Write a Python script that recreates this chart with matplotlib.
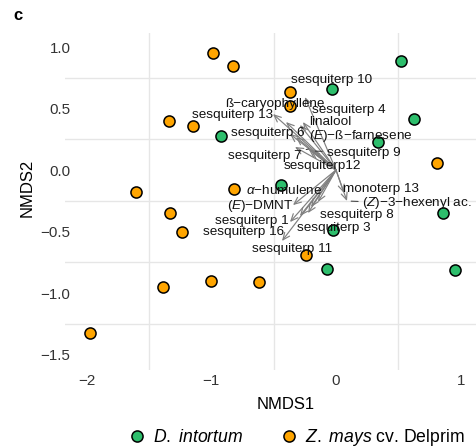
import matplotlib
matplotlib.use("Agg")
import matplotlib.pyplot as plt
from matplotlib.lines import Line2D

plt.rcParams['font.family'] = ['Liberation Sans', 'DejaVu Sans']
plt.rcParams['mathtext.fontset'] = 'custom'
plt.rcParams['mathtext.rm'] = 'Liberation Sans'
plt.rcParams['mathtext.it'] = 'Liberation Sans:italic'

# site scores (NMDS1, NMDS2)
dint_x = [0.524, -0.032, 0.626, -0.920, 0.340, -0.444, 0.855, -0.027, -0.075, 0.957]
dint_y = [0.889, 0.659, 0.417, 0.279, 0.225, -0.125, -0.347, -0.488, -0.802, -0.813]

zmays_x = [-0.986, -0.828, -0.366, -0.366, -1.339, -1.149, 0.813, -1.601,
           -0.815, -1.334, -1.237, -0.241, -1.000, -0.617, -1.385, -1.973]
zmays_y = [0.949, 0.843, 0.632, 0.520, 0.396, 0.358, 0.054, -0.181,
           -0.152, -0.352, -0.507, -0.694, -0.900, -0.908, -0.954, -1.323]

# fitted compound vectors
compounds = ["sesquiterp 10", r"ß−caryophyllene", "sesquiterp 4", "sesquiterp 13",
             "linalool", "sesquiterp 6", r"($\it{E}$)−ß−farnesene", "sesquiterp 9",
             "sesquiterp 7", "sesquiterp12", r"$\it{α}$−humulene", "monoterp 13",
             r"($\it{Z}$)−3−hexenyl ac.", r"($\it{E}$)−DMNT", "sesquiterp 8",
             "sesquiterp 3", "sesquiterp 1", "sesquiterp 16", "sesquiterp 11"]
vec_x = [-0.249, -0.401, -0.289, -0.505, -0.265, -0.369, -0.321, -0.200, -0.220, -0.329,
         -0.144, 0.064, 0.088, -0.345, -0.200, -0.225, -0.369, -0.433, -0.289]
vec_y = [0.593, 0.390, 0.366, 0.455, 0.390, 0.293, 0.268, 0.155, 0.170, 0.187,
         -0.260, -0.187, -0.252, -0.285, -0.301, -0.350, -0.423, -0.577, -0.374]

# repelled label positions
lab_x = [-0.034, -0.487, 0.099, -0.830, -0.044, -0.543, 0.202, 0.219, -0.568, -0.107,
         -0.415, 0.363, 0.650, -0.605, 0.171, -0.018, -0.672, -0.739, -0.349]
lab_y = [0.732, 0.537, 0.492, 0.447, 0.392, 0.303, 0.280, 0.141, 0.114, 0.035,
         -0.168, -0.155, -0.272, -0.290, -0.368, -0.470, -0.417, -0.507, -0.640]
leaders = ["sesquiterp 9", "sesquiterp 7", r"($\it{Z}$)−3−hexenyl ac."]

green = '#2DBE6C'
orange = '#FFA500'

fig = plt.figure(figsize=(4.76, 4.47), dpi=100)
ax = fig.add_axes([65 / 476, 77 / 447, 442 / 476, 337 / 447])

ax.set_xlim(-2.173, 1.371)
ax.set_ylim(-1.626, 1.114)

# only the in-between grid lines are drawn
for gx in [-1.5, -0.5, 0.5]:
    ax.axvline(gx, color='#E6E6E6', lw=1.0, zorder=0)
for gy in [-1.25, -0.75, -0.25, 0.25, 0.75]:
    ax.axhline(gy, color='#E6E6E6', lw=1.0, zorder=0)

for s in ax.spines.values():
    s.set_visible(False)
ax.set_xticks([-2, -1, 0, 1])
ax.set_xticklabels(['−2', '−1', '0', '1'])
ax.set_yticks([-1.5, -1.0, -0.5, 0.0, 0.5, 1.0])
ax.set_yticklabels(['−1.5', '−1.0', '−0.5', '0.0', '0.5', '1.0'])
ax.tick_params(axis='both', length=0, labelsize=10.9, labelcolor='#333333')
ax.tick_params(axis='y', pad=-4)
ax.tick_params(axis='x', pad=3)

ax.set_xlabel('NMDS1', fontsize=12)
ax.set_ylabel('NMDS2', fontsize=12)
ax.xaxis.set_label_coords((286 - 65) / 442, -(397 - 370) / 337)
ax.yaxis.set_label_coords((35 - 65) / 442, (370 - 188) / 337)

ax.scatter(dint_x, dint_y, s=64, c=green, edgecolors='black', linewidths=1.1, zorder=2)
ax.scatter(zmays_x, zmays_y, s=64, c=orange, edgecolors='black', linewidths=1.1, zorder=2)

for i, name in enumerate(compounds):
    ax.annotate('', xy=(vec_x[i], vec_y[i]), xytext=(0, 0),
                arrowprops=dict(arrowstyle='->,head_length=0.5,head_width=0.22',
                                color='#808080', lw=0.85, shrinkA=0, shrinkB=0),
                zorder=3)

for i, name in enumerate(compounds):
    props = None
    if name in leaders:
        props = dict(arrowstyle='-', color='#333333', lw=0.7, shrinkA=1, shrinkB=3)
    ax.annotate(name, xy=(vec_x[i], vec_y[i]), xytext=(lab_x[i], lab_y[i]),
                ha='center', va='center', fontsize=9.7, color='#111111',
                arrowprops=props, zorder=4)

fig.text(13 / 476, 1 - 16 / 447, 'c', fontsize=12, fontweight='bold', ha='left', va='center')

handles = [Line2D([], [], ls='', marker='o', ms=8, mfc=green, mec='black', mew=1.1),
           Line2D([], [], ls='', marker='o', ms=8, mfc=orange, mec='black', mew=1.1)]
labels = [r'$\it{D.\ intortum}$', r'$\it{Z.\ mays}$ cv. Delprim']
fig.legend(handles, labels, loc='center', bbox_to_anchor=(0.627, 1 - 437.7 / 447),
           ncol=2, frameon=False, fontsize=12.7, handlelength=0.6, handletextpad=0.6,
           columnspacing=2.3, borderpad=0, borderaxespad=0)

fig.savefig('out.png', dpi=100)
